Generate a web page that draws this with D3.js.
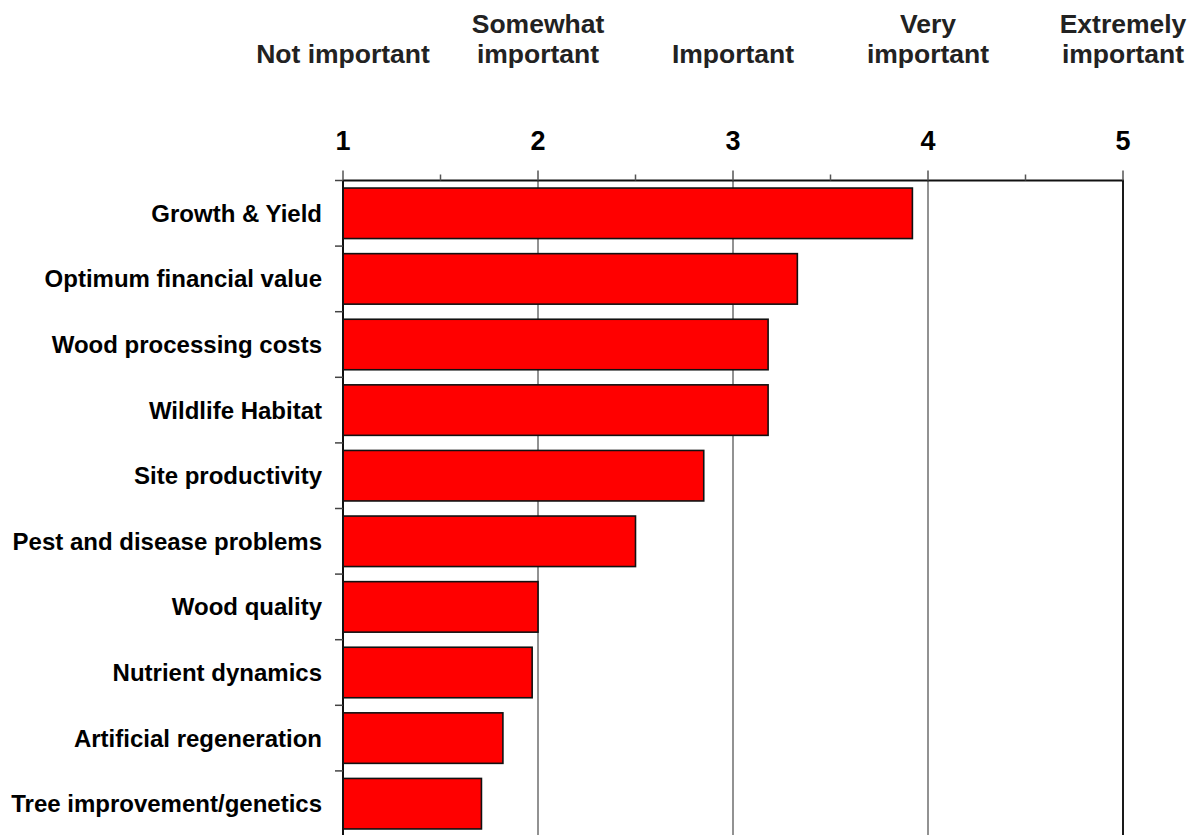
<!DOCTYPE html>
<html>
<head>
<meta charset="utf-8">
<script src="https://d3js.org/d3.v7.min.js"></script>
<style>
  body { margin: 0; background: #fff; }
  text { font-family: "Liberation Sans", Arial, sans-serif; font-weight: bold; fill: #000; }
</style>
</head>
<body>
<div id="VizBox"></div>
<script>
// data
var categories = [
  "Growth & Yield",
  "Optimum financial value",
  "Wood processing costs",
  "Wildlife Habitat",
  "Site productivity",
  "Pest and disease problems",
  "Wood quality",
  "Nutrient dynamics",
  "Artificial regeneration",
  "Tree improvement/genetics"
];
var scores = [3.92, 3.33, 3.18, 3.18, 2.85, 2.50, 2.00, 1.97, 1.82, 1.71];
var tickValues = [1, 2, 3, 4, 5];
var minorTicks = [1.5, 2.5, 3.5, 4.5];
var scaleLabels = [
  ["Not important"],
  ["Somewhat", "important"],
  ["Important"],
  ["Very", "important"],
  ["Extremely", "important"]
];

var data = categories.map(function(c, i) { return {group: c, value: scores[i]}; });

// dimensions
var margin = {top: 180.5, left: 343},
    width = 780,
    height = 656;

var svg = d3.select("#VizBox")
  .append("svg")
    .attr("width", 1204)
    .attr("height", 835)
  .append("g")
    .attr("transform", "translate(" + margin.left + "," + margin.top + ")");

// scales
var x = d3.scaleLinear()
  .domain([1, 5])
  .range([0, width]);

var y = d3.scaleBand()
  .domain(categories)
  .range([0, height])
  .paddingInner(0.23)
  .paddingOuter(0.115);

// vertical grid lines
svg.selectAll(".grid")
  .data(tickValues.slice(1, 4))
  .enter()
  .append("line")
    .attr("x1", function(d) { return x(d); })
    .attr("x2", function(d) { return x(d); })
    .attr("y1", 0)
    .attr("y2", height)
    .attr("stroke", "#6e6e6e")
    .attr("stroke-width", 1.5);

// right border
svg.append("line")
  .attr("x1", x(5)).attr("x2", x(5))
  .attr("y1", 0).attr("y2", height)
  .attr("stroke", "#1a1a1a")
  .attr("stroke-width", 2);

// bars
svg.selectAll("rect")
  .data(data)
  .enter()
  .append("rect")
    .attr("x", x(1))
    .attr("y", function(d) { return y(d.group); })
    .attr("width", function(d) { return x(d.value) - x(1); })
    .attr("height", y.bandwidth())
    .attr("fill", "#ff0000")
    .attr("stroke", "#111")
    .attr("stroke-width", 1.6);

// top axis, major + minor ticks
var xAxis = svg.append("g");
xAxis.append("line")
  .attr("x1", 0).attr("x2", width + 1)
  .attr("y1", 0).attr("y2", 0)
  .attr("stroke", "#111")
  .attr("stroke-width", 2);
xAxis.selectAll(".major")
  .data(tickValues)
  .enter()
  .append("line")
    .attr("x1", function(d) { return x(d); })
    .attr("x2", function(d) { return x(d); })
    .attr("y1", -10)
    .attr("y2", 0)
    .attr("stroke", "#555")
    .attr("stroke-width", 1.5);
xAxis.selectAll(".minor")
  .data(minorTicks)
  .enter()
  .append("line")
    .attr("x1", function(d) { return x(d); })
    .attr("x2", function(d) { return x(d); })
    .attr("y1", -6)
    .attr("y2", 0)
    .attr("stroke", "#555")
    .attr("stroke-width", 1.5);
xAxis.selectAll(".tlab")
  .data(tickValues)
  .enter()
  .append("text")
    .attr("x", function(d) { return x(d); })
    .attr("y", -31)
    .attr("text-anchor", "middle")
    .attr("font-size", "27px")
    .text(function(d) { return d; });

// importance labels above the numbers
var heads = svg.selectAll(".head")
  .data(scaleLabels)
  .enter()
  .append("text")
    .attr("text-anchor", "middle")
    .attr("font-size", "26.5px")
    .style("fill", "#222")
    .attr("transform", function(d, i) { return "translate(" + x(tickValues[i]) + ",-118)"; });
heads.selectAll("tspan")
  .data(function(d) { return d.length == 1 ? ["", d[0]] : d; })
  .enter()
  .append("tspan")
    .attr("x", 0)
    .attr("y", function(d, i) { return i * 30 - 30; })
    .text(function(d) { return d; });

// left axis: line, ticks between categories, labels
var yAxis = svg.append("g");
yAxis.append("line")
  .attr("x1", 0).attr("x2", 0)
  .attr("y1", 0).attr("y2", height)
  .attr("stroke", "#111")
  .attr("stroke-width", 2);
yAxis.selectAll(".ytick")
  .data(d3.range(categories.length + 1))
  .enter()
  .append("line")
    .attr("x1", -8)
    .attr("x2", 0)
    .attr("y1", function(i) { return i * y.step(); })
    .attr("y2", function(i) { return i * y.step(); })
    .attr("stroke", "#444")
    .attr("stroke-width", 1.5);
yAxis.selectAll(".ylab")
  .data(categories)
  .enter()
  .append("text")
    .attr("x", -21)
    .attr("y", function(d) { return y(d) + y.bandwidth() / 2; })
    .attr("dy", "0.35em")
    .attr("text-anchor", "end")
    .attr("font-size", "24px")
    .text(function(d) { return d; });
</script>
</body>
</html>
